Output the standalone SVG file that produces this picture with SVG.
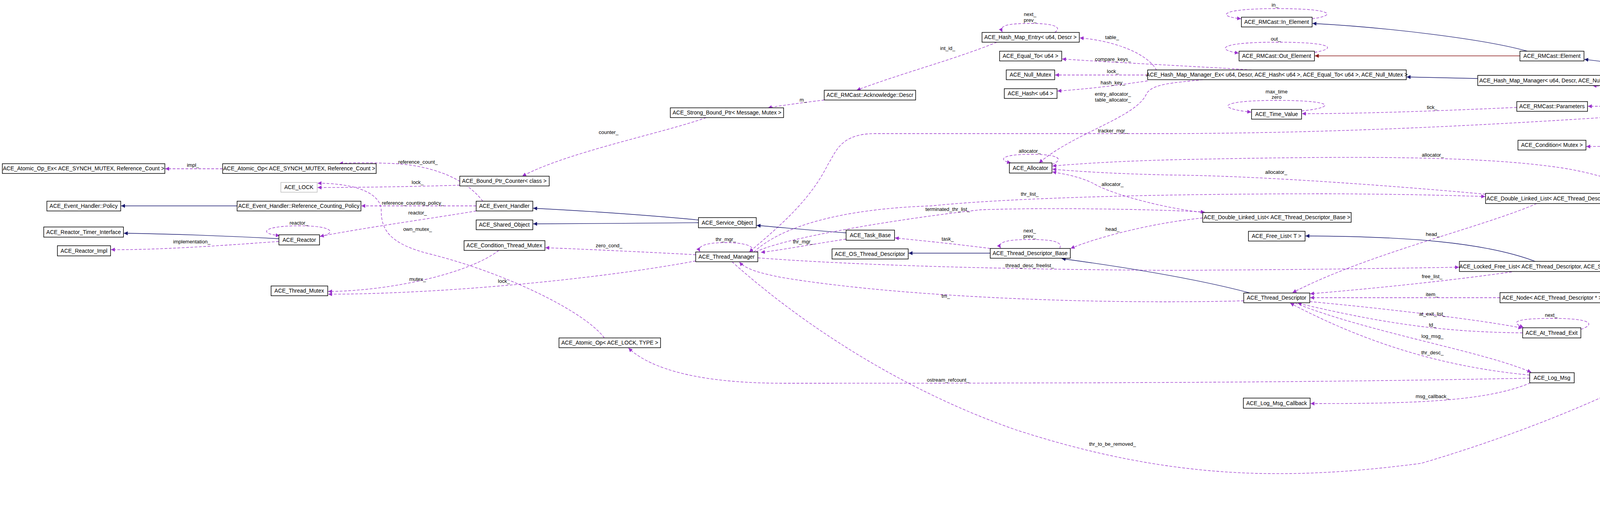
<svg xmlns="http://www.w3.org/2000/svg" width="4667" height="1308" viewBox="0 0 4667 1308">
<style>
.n rect{fill:#fff;stroke:#000;stroke-width:1.5}
.n text{font-family:"Liberation Sans",Arial,sans-serif;font-size:14px;text-anchor:middle;fill:#000}
.l{font-family:"Liberation Sans",Arial,sans-serif;font-size:13px;text-anchor:middle;fill:#000}
.u{fill:none;stroke:#9a32cd;stroke-width:1.3;stroke-dasharray:7,4;marker-end:url(#mu)}
.i{fill:none;stroke:#191970;stroke-width:1.3;marker-end:url(#mi)}
.p{fill:none;stroke:#8b1a1a;stroke-width:1.3;marker-end:url(#mp)}
</style>
<defs>
<marker id="mu" viewBox="0 0 10 10" refX="10" refY="5" markerWidth="10" markerHeight="10" markerUnits="userSpaceOnUse" orient="auto"><path d="M0,0L10,5L0,10z" fill="#9a32cd"/></marker>
<marker id="mi" viewBox="0 0 10 10" refX="10" refY="5" markerWidth="10" markerHeight="10" markerUnits="userSpaceOnUse" orient="auto"><path d="M0,0L10,5L0,10z" fill="#191970"/></marker>
<marker id="mp" viewBox="0 0 10 10" refX="10" refY="5" markerWidth="10" markerHeight="10" markerUnits="userSpaceOnUse" orient="auto"><path d="M0,0L10,5L0,10z" fill="#8b1a1a"/></marker>
</defs>
<rect width="4667" height="1308" fill="#fff"/>
<g id="edges">
<path class="i" d="M4459,260 C4380,210 4220,170 4056,152"/>
<path class="i" d="M3910,131 C3800,100 3550,70 3360,60"/>
<path class="p" d="M3891,143 L3366,143"/>
<path class="i" d="M3783,201 L3601,197"/>
<path class="u" d="M4398,261 C4300,245 4150,225 4077,219"/>
<path class="u" d="M4398,272 L4065,272"/>
<path class="u" d="M4463,285 C4420,330 4300,375 4061,375"/>
<path class="u" d="M4398,282 C4100,300 3600,340 3000,342 L2240,342 C2150,342 2140,390 2120,420 C2080,500 2020,560 1918,645"/>
<path class="u" d="M3883,275 C3700,283 3500,291 3333,291"/>
<path class="u" d="M2961,180 C2940,140 2860,105 2764,97"/>
<path class="u" d="M3204,179 C3100,172 2850,160 2719,151"/>
<path class="u" d="M2938,192 L2701,192"/>
<path class="u" d="M2938,207 C2850,220 2780,228 2707,233"/>
<path class="u" d="M3080,204 C3000,212 2950,215 2935,240 C2910,300 2750,340 2660,417"/>
<path class="u" d="M2552,108 C2450,150 2300,190 2193,231"/>
<path class="u" d="M2110,256 C2060,262 2000,270 1966,276"/>
<path class="u" d="M1808,301 C1700,340 1450,390 1337,451"/>
<path class="u" d="M1177,474 C1050,478 900,480 813,480"/>
<path class="u" d="M1547,865 C1500,800 1300,700 1100,650 C1000,625 976,590 976,540 C976,490 900,469 813,469"/>
<path class="u" d="M570,432 L423,432"/>
<path class="u" d="M1236,515 C1190,455 1100,420 990,418 C940,416 900,416 868,419"/>
<path class="u" d="M1219,527 L925,527"/>
<path class="u" d="M1219,540 C1100,560 950,580 819,605"/>
<path class="i" d="M714,611 C600,605 450,599 317,597"/>
<path class="u" d="M714,618 C550,630 400,640 284,639"/>
<path class="i" d="M607,527 L310,527"/>
<path class="i" d="M1788,563 C1650,550 1500,540 1365,533"/>
<path class="i" d="M1788,570 C1650,571 1500,573 1365,573"/>
<path class="i" d="M2166,596 C2080,590 2000,582 1937,577"/>
<path class="u" d="M1781,652 C1650,645 1500,638 1396,634"/>
<path class="u" d="M2166,612 C2080,625 2000,640 1948,646"/>
<path class="u" d="M2535,636 C2450,625 2350,615 2291,609"/>
<path class="i" d="M2535,648 L2326,648"/>
<path class="u" d="M3079,558 C2950,570 2800,610 2741,636"/>
<path class="u" d="M1940,660 C2200,680 2600,690 3000,692 C3400,690 3600,686 3735,684"/>
<path class="u" d="M1930,645 C2000,580 2150,535 2383,527 C2600,505 3000,496 3400,496 C3600,497 3700,500 3802,503"/>
<path class="u" d="M1935,645 C2000,610 2300,560 2510,537 C2700,530 3000,537 3084,543"/>
<path class="u" d="M3803,497 C3500,470 3200,450 3000,448 C2850,445 2750,438 2694,433"/>
<path class="u" d="M3085,544 C3000,537 2850,500 2800,470 C2760,450 2720,445 2694,440"/>
<path class="u" d="M4476,750 C4400,600 4250,470 4000,430 C3800,400 3500,398 3000,409 C2850,413 2750,420 2694,425"/>
<path class="u" d="M3934,521 C3800,580 3500,650 3309,749"/>
<path class="i" d="M3930,669 C3800,620 3600,605 3342,604"/>
<path class="i" d="M3200,750 C3050,710 2850,680 2718,662"/>
<path class="u" d="M3870,696 C3700,720 3500,740 3354,752"/>
<path class="u" d="M3840,762 L3354,762"/>
<path class="u" d="M4311,762 L4107,762"/>
<path class="u" d="M1874,670 C1930,720 2200,960 2600,1100 C3000,1230 3300,1230 3638,1186 C4000,1080 4400,900 4468,776"/>
<path class="u" d="M3184,770 C2800,780 2300,760 2000,710 C1950,700 1910,690 1893,671"/>
<path class="u" d="M3353,772 C3550,790 3800,820 3897,840"/>
<path class="u" d="M3898,852 C3700,850 3550,830 3322,776"/>
<path class="u" d="M3316,776 C3500,850 3800,900 3920,953"/>
<path class="u" d="M3916,960 C3700,940 3500,880 3303,776"/>
<path class="u" d="M3918,980 C3800,1030 3600,1033 3355,1033"/>
<path class="u" d="M3916,968 C3500,976 3100,981 2005,981 C1750,981 1650,930 1609,891"/>
<path class="u" d="M1277,641 C1200,700 1000,745 840,746"/>
<path class="u" d="M1781,668 C1500,720 1100,753 840,753"/>
<path class="u" d="M818,606 C860,598 860,578 766,578 C672,578 660,598 716,603"/>
<path class="u" d="M2700,83 C2720,70 2700,60 2640,60 C2575,60 2558,66 2566,82"/>
<path class="u" d="M3359,48 C3420,40 3420,22 3268,22 C3120,22 3115,42 3177,48"/>
<path class="u" d="M3365,134 C3420,125 3420,108 3268,108 C3115,108 3115,128 3171,136"/>
<path class="u" d="M3332,284 C3420,275 3420,257 3268,257 C3115,257 3115,278 3203,287"/>
<path class="u" d="M2693,421 C2720,410 2720,395 2640,395 C2560,395 2555,410 2588,417"/>
<path class="u" d="M1925,645 C1935,628 1900,621 1858,621 C1800,621 1785,632 1792,644"/>
<path class="u" d="M2713,636 C2720,620 2700,613 2636,613 C2570,613 2553,622 2562,635"/>
<path class="u" d="M4047,843 C4085,830 4075,815 3975,815 C3860,815 3875,828 3900,838"/>
</g>
<g id="labels">
<text class="l" x="4257" y="240">queue_</text>
<text class="l" x="4257" y="268">params_</text>
<text class="l" x="4257" y="352">cond_</text>
<text class="l" x="3264" y="17">in_</text>
<text class="l" x="3266" y="104">out_</text>
<text class="l" x="2637" y="41">next_</text>
<text class="l" x="2637" y="56">prev_</text>
<text class="l" x="2847" y="100">table_</text>
<text class="l" x="2849" y="156">compare_keys_</text>
<text class="l" x="2849" y="187">lock_</text>
<text class="l" x="2849" y="216">hash_key_</text>
<text class="l" x="2849" y="245">entry_allocator_</text>
<text class="l" x="2849" y="260">table_allocator_</text>
<text class="l" x="3268" y="239">max_time</text>
<text class="l" x="3268" y="253">zero</text>
<text class="l" x="3666" y="279">tick_</text>
<text class="l" x="2849" y="339">tracker_mgr_</text>
<text class="l" x="2426" y="128">int_id_</text>
<text class="l" x="2056" y="260">m_</text>
<text class="l" x="1558" y="343">counter_</text>
<text class="l" x="494" y="427">impl_</text>
<text class="l" x="1070" y="419">reference_count_</text>
<text class="l" x="1069" y="471">lock_</text>
<text class="l" x="1057" y="524">reference_counting_policy_</text>
<text class="l" x="1069" y="549">reactor_</text>
<text class="l" x="765" y="575">reactor_</text>
<text class="l" x="491" y="623">implementation_</text>
<text class="l" x="1069" y="591">own_mutex_</text>
<text class="l" x="1559" y="633">zero_cond_</text>
<text class="l" x="1858" y="617">thr_mgr_</text>
<text class="l" x="1069" y="719">mutex_</text>
<text class="l" x="1290" y="724">lock_</text>
<text class="l" x="2636" y="391">allocator_</text>
<text class="l" x="2848" y="476">allocator_</text>
<text class="l" x="3267" y="445">allocator_</text>
<text class="l" x="3668" y="401">allocator_</text>
<text class="l" x="2636" y="501">thr_list_</text>
<text class="l" x="2426" y="540">terminated_thr_list_</text>
<text class="l" x="2848" y="591">head_</text>
<text class="l" x="3668" y="604">head_</text>
<text class="l" x="2636" y="595">next_</text>
<text class="l" x="2636" y="609">prev_</text>
<text class="l" x="2426" y="616">task_</text>
<text class="l" x="2056" y="623">thr_mgr_</text>
<text class="l" x="2636" y="684">thread_desc_freelist_</text>
<text class="l" x="2421" y="762">tm_</text>
<text class="l" x="3666" y="712">free_list_</text>
<text class="l" x="3666" y="758">item_</text>
<text class="l" x="4258" y="759">head_</text>
<text class="l" x="3667" y="808">at_exit_list_</text>
<text class="l" x="3971" y="811">next_</text>
<text class="l" x="3667" y="836">td_</text>
<text class="l" x="3667" y="865">log_msg_</text>
<text class="l" x="3667" y="907">thr_desc_</text>
<text class="l" x="3667" y="1019">msg_callback_</text>
<text class="l" x="2427" y="977">ostream_refcount_</text>
<text class="l" x="2848" y="1141">thr_to_be_removed_</text>
</g>
<g id="n1" class="n"><rect x="6" y="419" width="416" height="25"/><text x="214" y="436">ACE_Atomic_Op_Ex&lt; ACE_SYNCH_MUTEX, Reference_Count &gt;</text></g>
<g id="n2" class="n"><rect x="570" y="419" width="393" height="25"/><text x="766" y="436">ACE_Atomic_Op&lt; ACE_SYNCH_MUTEX, Reference_Count &gt;</text></g>
<g id="n3" class="n"><rect x="719" y="467" width="93" height="25" style="stroke:#bfbfbf"/><text x="765" y="484">ACE_LOCK</text></g>
<g id="n4" class="n"><rect x="120" y="515" width="189" height="25"/><text x="214" y="532">ACE_Event_Handler::Policy</text></g>
<g id="n5" class="n"><rect x="607" y="515" width="317" height="25"/><text x="765" y="532">ACE_Event_Handler::Reference_Counting_Policy</text></g>
<g id="n6" class="n"><rect x="112" y="581" width="204" height="26"/><text x="214" y="599">ACE_Reactor_Timer_Interface</text></g>
<g id="n7" class="n"><rect x="714" y="601" width="104" height="26"/><text x="766" y="619">ACE_Reactor</text></g>
<g id="n8" class="n"><rect x="147" y="629" width="136" height="26"/><text x="215" y="647">ACE_Reactor_Impl</text></g>
<g id="n9" class="n"><rect x="694" y="732" width="145" height="25"/><text x="766" y="749">ACE_Thread_Mutex</text></g>
<g id="n10" class="n"><rect x="1177" y="451" width="229" height="25"/><text x="1291" y="468">ACE_Bound_Ptr_Counter&lt; class &gt;</text></g>
<g id="n11" class="n"><rect x="1219" y="515" width="145" height="25"/><text x="1291" y="532">ACE_Event_Handler</text></g>
<g id="n12" class="n"><rect x="1219" y="563" width="145" height="25"/><text x="1291" y="580">ACE_Shared_Object</text></g>
<g id="n13" class="n"><rect x="1188" y="616" width="207" height="25"/><text x="1291" y="633">ACE_Condition_Thread_Mutex</text></g>
<g id="n14" class="n"><rect x="1788" y="557" width="148" height="26"/><text x="1862" y="575">ACE_Service_Object</text></g>
<g id="n15" class="n"><rect x="1781" y="645" width="159" height="25"/><text x="1860" y="662">ACE_Thread_Manager</text></g>
<g id="n16" class="n"><rect x="2514" y="83" width="249" height="25"/><text x="2638" y="100">ACE_Hash_Map_Entry&lt; u64, Descr &gt;</text></g>
<g id="n17" class="n"><rect x="2559" y="131" width="159" height="25"/><text x="2638" y="148">ACE_Equal_To&lt; u64 &gt;</text></g>
<g id="n18" class="n"><rect x="2576" y="179" width="124" height="25"/><text x="2638" y="196">ACE_Null_Mutex</text></g>
<g id="n19" class="n"><rect x="2571" y="227" width="135" height="25"/><text x="2638" y="244">ACE_Hash&lt; u64 &gt;</text></g>
<g id="n20" class="n"><rect x="2110" y="231" width="234" height="25"/><text x="2227" y="248">ACE_RMCast::Acknowledge::Descr</text></g>
<g id="n21" class="n"><rect x="1716" y="276" width="290" height="25"/><text x="1861" y="293">ACE_Strong_Bound_Ptr&lt; Message, Mutex &gt;</text></g>
<g id="n22" class="n"><rect x="3178" y="44" width="181" height="25"/><text x="3268" y="61">ACE_RMCast::In_Element</text></g>
<g id="n23" class="n"><rect x="3172" y="131" width="193" height="25"/><text x="3268" y="148">ACE_RMCast::Out_Element</text></g>
<g id="n24" class="n"><rect x="2938" y="179" width="662" height="25"/><text x="3269" y="196">ACE_Hash_Map_Manager_Ex&lt; u64, Descr, ACE_Hash&lt; u64 &gt;, ACE_Equal_To&lt; u64 &gt;, ACE_Null_Mutex &gt;</text></g>
<g id="n25" class="n"><rect x="3204" y="280" width="128" height="25"/><text x="3268" y="297">ACE_Time_Value</text></g>
<g id="n26" class="n"><rect x="3891" y="131" width="164" height="25"/><text x="3973" y="148">ACE_RMCast::Element</text></g>
<g id="n27" class="n"><rect x="3783" y="193" width="380" height="26"/><text x="3973" y="211">ACE_Hash_Map_Manager&lt; u64, Descr, ACE_Null_Mutex &gt;</text></g>
<g id="n28" class="n"><rect x="3883" y="260" width="181" height="25"/><text x="3973" y="277">ACE_RMCast::Parameters</text></g>
<g id="n29" class="n"><rect x="4398" y="260" width="177" height="25" style="fill:#bfbfbf"/><text x="4486" y="277">ACE_RMCast::Retransmit</text></g>
<g id="n30" class="n"><rect x="3886" y="359" width="174" height="25"/><text x="3973" y="376">ACE_Condition&lt; Mutex &gt;</text></g>
<g id="n31" class="n"><rect x="2584" y="417" width="109" height="26"/><text x="2638" y="435">ACE_Allocator</text></g>
<g id="n32" class="n"><rect x="2166" y="589" width="124" height="26"/><text x="2228" y="607">ACE_Task_Base</text></g>
<g id="n33" class="n"><rect x="2130" y="637" width="195" height="26"/><text x="2227" y="655">ACE_OS_Thread_Descriptor</text></g>
<g id="n34" class="n"><rect x="2535" y="636" width="205" height="25"/><text x="2637" y="653">ACE_Thread_Descriptor_Base</text></g>
<g id="n35" class="n"><rect x="3803" y="495" width="340" height="26"/><text x="3973" y="513">ACE_Double_Linked_List&lt; ACE_Thread_Descriptor &gt;</text></g>
<g id="n36" class="n"><rect x="3079" y="544" width="380" height="25"/><text x="3269" y="561">ACE_Double_Linked_List&lt; ACE_Thread_Descriptor_Base &gt;</text></g>
<g id="n37" class="n"><rect x="3196" y="592" width="145" height="25"/><text x="3268" y="609">ACE_Free_List&lt; T &gt;</text></g>
<g id="n38" class="n"><rect x="3736" y="669" width="472" height="26"/><text x="3972" y="687">ACE_Locked_Free_List&lt; ACE_Thread_Descriptor, ACE_SYNCH_MUTEX &gt;</text></g>
<g id="n39" class="n"><rect x="3184" y="750" width="169" height="25"/><text x="3268" y="767">ACE_Thread_Descriptor</text></g>
<g id="n40" class="n"><rect x="3840" y="749" width="266" height="26"/><text x="3973" y="767">ACE_Node&lt; ACE_Thread_Descriptor * &gt;</text></g>
<g id="n41" class="n"><rect x="4311" y="749" width="352" height="26"/><text x="4487" y="767">ACE_Unbounded_Queue&lt; ACE_Thread_Descriptor * &gt;</text></g>
<g id="n42" class="n"><rect x="3898" y="839" width="149" height="26"/><text x="3972" y="857">ACE_At_Thread_Exit</text></g>
<g id="n43" class="n"><rect x="3916" y="954" width="114" height="26"/><text x="3973" y="972">ACE_Log_Msg</text></g>
<g id="n44" class="n"><rect x="3183" y="1019" width="171" height="26"/><text x="3268" y="1037">ACE_Log_Msg_Callback</text></g>
<g id="n45" class="n"><rect x="1431" y="865" width="260" height="25"/><text x="1561" y="882">ACE_Atomic_Op&lt; ACE_LOCK, TYPE &gt;</text></g>
</svg>
